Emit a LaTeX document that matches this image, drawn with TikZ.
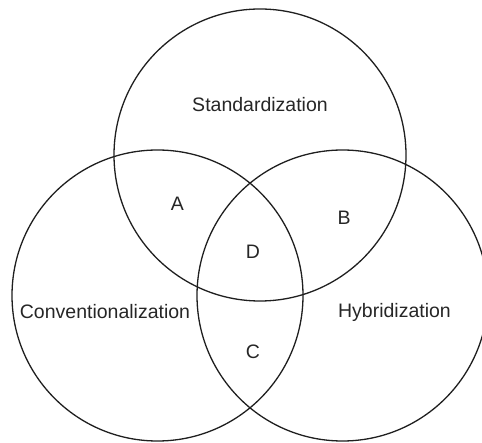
\documentclass[tikz,border=0pt]{standalone}
\usepackage{fontspec}
\setmainfont{Liberation Sans}
\begin{document}
\begin{tikzpicture}[x=1pt,y=-1pt,
  ring/.style={draw=black!88,line width=1.3pt},
  lbl/.style={text=black!85,font=\fontsize{19.5}{22}\selectfont,inner sep=0pt}]
\useasboundingbox (0,0) rectangle (482,443);
\begin{scope}
\clip (0,0) rectangle (482,443);
\draw[ring] (260,155) circle[radius=146];
\draw[ring] (157.5,295.5) circle[radius=145.5];
\draw[ring] (342.5,295.5) circle[radius=145.5];
\end{scope}
\node[lbl] (std) at (260,105) {Standardization};
\node[lbl] (con) at (105,312) {Conventionalization};
\node[lbl] (hyb) at (394.5,312) {Hybridization};
\node[lbl] (a) at (177.5,204) {A};
\node[lbl] (b) at (344,218) {B};
\node[lbl] (d) at (253,252) {D};
\node[lbl] (c) at (253,352) {C};
\end{tikzpicture}
\end{document}
